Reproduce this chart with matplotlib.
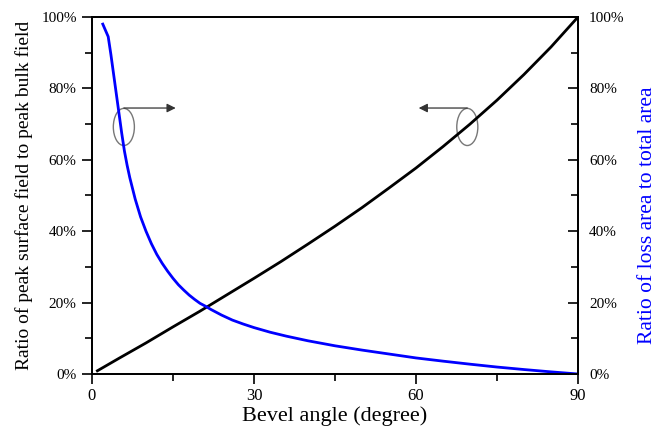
import matplotlib
matplotlib.use('Agg')
import matplotlib.pyplot as plt
from matplotlib.patches import Ellipse
from matplotlib.ticker import MultipleLocator, FormatStrFormatter

# Black curve: peak surface field / peak bulk field (left axis, %)
angle_field = [1, 5, 10, 15, 20, 25, 30, 35, 40, 45, 50, 55, 60, 65, 70, 75, 80, 85, 90]
field_ratio = [0.9, 4.4, 8.7, 13.2, 17.6, 22.2, 26.8, 31.5, 36.4, 41.4, 46.6, 52.1,
               57.7, 63.7, 70.0, 76.7, 83.9, 91.6, 100.0]

# Blue curve: loss area / total area (right axis, %)
angle_loss = [2, 3, 3.5, 4, 4.5, 5, 5.5, 6, 6.5, 7, 7.5, 8, 8.5, 9, 10, 11, 12, 13,
              14, 15, 16, 17, 18, 19, 20, 21, 22, 24, 26, 28, 30, 33, 36, 40, 45, 50,
              55, 60, 65, 70, 75, 80, 85, 90]
loss_ratio = [98, 94.5, 89.5, 84, 78.5, 73, 67.5, 62.5, 58.5, 55, 52, 49, 46.5, 44,
              40, 36.5, 33.5, 31, 28.8, 26.8, 25, 23.5, 22.1, 20.9, 19.8, 19.0, 18.1,
              16.5, 15.1, 14.0, 13.0, 11.7, 10.6, 9.3, 7.9, 6.7, 5.6, 4.5, 3.6, 2.75,
              1.95, 1.25, 0.6, 0]

plt.rcParams['font.family'] = ['Liberation Serif', 'DejaVu Serif']

fig = plt.figure(figsize=(6.7, 4.29), dpi=100)
ax = fig.add_axes([0.1373, 0.1282, 0.7254, 0.8322])
ax2 = ax.twinx()

ax.plot(angle_field, field_ratio, color='black', lw=2)
ax2.plot(angle_loss, loss_ratio, color='#0000ff', lw=2)

ax.set_xlim(0, 90)
ax.set_ylim(0, 100)
ax2.set_ylim(0, 100)

# axis ticks
ax.xaxis.set_major_locator(MultipleLocator(30))
ax.xaxis.set_minor_locator(MultipleLocator(15))
for a in (ax, ax2):
    a.yaxis.set_major_locator(MultipleLocator(20))
    a.yaxis.set_minor_locator(MultipleLocator(10))
    a.yaxis.set_major_formatter(FormatStrFormatter('%d%%'))
    for s in a.spines.values():
        s.set_linewidth(1.3)

ax.tick_params(axis='x', which='major', direction='out', length=7, width=1.2, labelsize=12, pad=3)
ax.tick_params(axis='x', which='minor', direction='out', length=5, width=1.2)
ax.tick_params(axis='x', which='both', top=False)
ax.tick_params(axis='y', which='major', direction='out', length=7, width=1.2, labelsize=11, pad=4)
ax.tick_params(axis='y', which='minor', direction='out', length=5, width=1.2)
ax2.tick_params(axis='y', which='major', direction='in', length=7, width=1.2, labelsize=11, pad=8)
ax2.tick_params(axis='y', which='minor', direction='in', length=5, width=1.2)

ax.set_xlabel('Bevel angle (degree)', fontsize=16, labelpad=2)
ax.set_ylabel('Ratio of peak surface field to peak bulk field', fontsize=14)
ax.yaxis.set_label_coords(-0.122, 0.5)
ax2.set_ylabel('Ratio of loss area to total area', fontsize=15.5, color='#0000ff')
ax2.yaxis.set_label_coords(1.123, 0.445)

# ellipse + arrow markers showing which axis each curve uses
ax.add_patch(Ellipse((5.9, 69.2), 3.9, 10.4, fill=False, ec='#777777', lw=1))
ax.annotate('', xy=(15.5, 74.5), xytext=(5.9, 74.5),
            arrowprops=dict(arrowstyle='-|>', color='#333333', lw=0.9,
                            mutation_scale=13, shrinkA=0, shrinkB=0))
ax.add_patch(Ellipse((69.5, 69.2), 3.9, 10.4, fill=False, ec='#777777', lw=1))
ax.annotate('', xy=(60.5, 74.5), xytext=(69.5, 74.5),
            arrowprops=dict(arrowstyle='-|>', color='#333333', lw=0.9,
                            mutation_scale=13, shrinkA=0, shrinkB=0))

plt.savefig('out.png', dpi=100)
plt.close()
